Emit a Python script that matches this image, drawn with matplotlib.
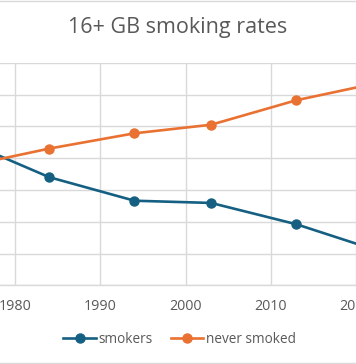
import matplotlib.pyplot as plt
from matplotlib.patches import Rectangle

# survey years and rates (%), GB adults aged 16+
years = [1974, 1984, 1994, 2003, 2013, 2023]
smokers = [45.5, 34.0, 26.6, 25.9, 19.2, 10.5]
never_smoked = [37.3, 43.0, 47.8, 50.5, 58.2, 63.9]
series_names = ["smokers", "never smoked"]
x_ticks = [1980, 1990, 2000, 2010, 2020]

blue = "#156082"
orange = "#E97132"
grid_col = "#d9d9d9"
text_col = "#595959"

plt.rcParams["font.family"] = ["Open Sans", "DejaVu Sans"]

fig = plt.figure(figsize=(3.56, 3.64), dpi=100)
# plot area runs past the left/right edges of the picture (cropped chart)
ax = fig.add_axes([0.0, 0.2162, 1.0, 0.6115])

ax.plot(years, smokers, color=blue, lw=1.9, marker="o", ms=6.5, label=series_names[0])
ax.plot(years, never_smoked, color=orange, lw=1.9, marker="o", ms=6.5, label=series_names[1])

ax.set_xlim(1978.22, 2019.62)
ax.set_ylim(0, 70)
ax.set_yticks(range(0, 71, 10))
ax.set_xticks(x_ticks)
ax.set_xticklabels([str(x) for x in x_ticks])
ax.set_yticklabels([])
ax.grid(True, color=grid_col, lw=1)
ax.set_axisbelow(True)
for side in ["left", "right", "top"]:
    ax.spines[side].set_visible(False)
ax.spines["bottom"].set_color(grid_col)
ax.spines["bottom"].set_linewidth(1)
ax.tick_params(axis="both", length=0, colors=text_col, labelsize=10.3, pad=10)

fig.text(0.5, 0.925, "16+ GB smoking rates", ha="center", va="center",
         fontsize=15.5, color=text_col)

fig.legend(loc="center", bbox_to_anchor=(0.505, 0.068), ncol=2, frameon=False,
           fontsize=9.8, labelcolor=text_col, handlelength=2.4, handletextpad=0.2,
           columnspacing=1.3)

# chart area border (only top and bottom edges show in the crop)
fig.add_artist(Rectangle((-0.05, 0.0015), 1.1, 0.996, transform=fig.transFigure,
                         fill=False, ec=grid_col, lw=1))

fig.savefig("out.png", dpi=100)
